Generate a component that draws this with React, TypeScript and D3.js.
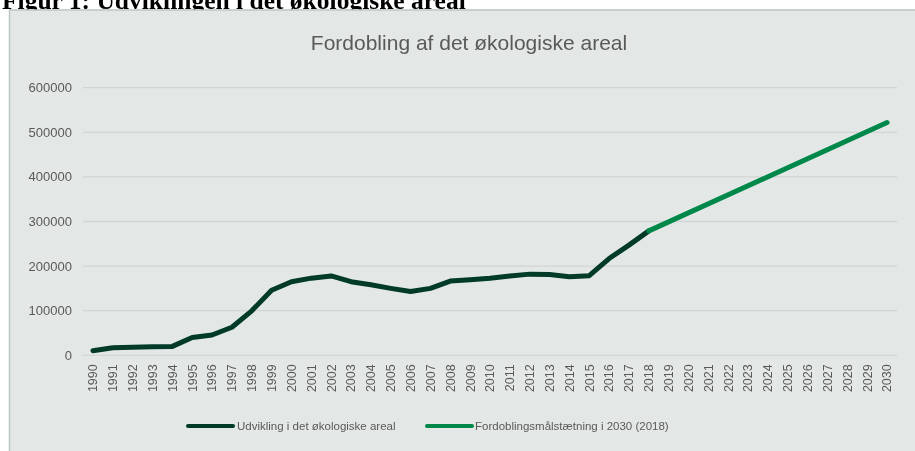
import { useMemo } from "react";
import * as d3 from "d3";

const WIDTH = 915;
const HEIGHT = 451;
const PLOT = { left: 83, right: 897, top: 87.7, bottom: 355.3 };

const years = d3.range(1990, 2031).map(String);

// udvikling i det økologiske areal (ha)
const actualYears = [
  "1990", "1991", "1992", "1993", "1994", "1995", "1996", "1997", "1998", "1999",
  "2000", "2001", "2002", "2003", "2004", "2005", "2006", "2007", "2008", "2009",
  "2010", "2011", "2012", "2013", "2014", "2015", "2016", "2017", "2018",
];
const actualValues = [
  10300, 17000, 18000, 19000, 20000, 40000, 45500, 63000, 99700, 146000,
  165000, 173000, 178000, 165000, 158000, 150000, 143000, 150000, 166500, 169500,
  173000, 178000, 182000, 181000, 176000, 178500, 217000, 247000, 279000,
];

// målsætning: fordobling frem til 2030
const targetYears = ["2018", "2030"];
const targetValues = [279000, 522000];

const yTicks = [0, 100000, 200000, 300000, 400000, 500000, 600000];

const DARK = "#013a28";
const GREEN = "#00884a";
const FONT = "'Liberation Sans', Arial, sans-serif";

type Pt = { year: string; value: number };

export default function App() {
  const xScale = useMemo(
    () => d3.scalePoint<string>().domain(years).range([PLOT.left, PLOT.right]).padding(0.5),
    []
  );
  const yScale = useMemo(
    () => d3.scaleLinear().domain([0, 600000]).range([PLOT.bottom, PLOT.top]),
    []
  );

  const line = d3
    .line<Pt>()
    .x((d) => xScale(d.year) ?? 0)
    .y((d) => yScale(d.value));

  const actual = actualYears.map((year, i) => ({ year, value: actualValues[i] }));
  const target = targetYears.map((year, i) => ({ year, value: targetValues[i] }));

  return (
    <div style={{ position: "fixed", left: 0, top: 0 }}>
      <svg width={WIDTH} height={HEIGHT} style={{ display: "block" }}>
        <rect x={0} y={0} width={WIDTH} height={HEIGHT} fill="#fff" />
        {/* figure heading, cut off at the top like in the source */}
        <text
          x={2}
          y={8.5}
          fontFamily="'Liberation Serif', 'Times New Roman', serif"
          fontWeight="bold"
          fontSize={25.5}
          fill="#000"
        >
          Figur 1: Udviklingen i det økologiske areal
        </text>
        <rect
          x={9.5}
          y={10}
          width={WIDTH}
          height={HEIGHT}
          fill="#e3e8e6"
          stroke="#b9c7c3"
          strokeWidth={1.5}
        />
        <text
          x={469}
          y={50}
          textAnchor="middle"
          fontFamily={FONT}
          fontSize={21}
          fill="#595959"
        >
          Fordobling af det økologiske areal
        </text>

        {yTicks.map((t) => (
          <g key={t}>
            <line
              x1={PLOT.left}
              x2={PLOT.right}
              y1={yScale(t)}
              y2={yScale(t)}
              stroke="#d3d5d5"
              strokeWidth={1.3}
            />
            <text
              x={72}
              y={yScale(t)}
              dy="0.35em"
              textAnchor="end"
              fontFamily={FONT}
              fontSize={13}
              fill="#595959"
            >
              {t}
            </text>
          </g>
        ))}

        {years.map((y) => (
          <text
            key={y}
            transform={`translate(${xScale(y)},${PLOT.bottom + 9}) rotate(-90)`}
            dy="0.35em"
            textAnchor="end"
            fontFamily={FONT}
            fontSize={12.5}
            fill="#595959"
          >
            {y}
          </text>
        ))}

        <path
          d={line(actual) ?? ""}
          fill="none"
          stroke={DARK}
          strokeWidth={5}
          strokeLinejoin="round"
          strokeLinecap="round"
        />
        <path
          d={line(target) ?? ""}
          fill="none"
          stroke={GREEN}
          strokeWidth={5}
          strokeLinecap="round"
        />

        <g fontFamily={FONT} fontSize={11.5} fill="#595959">
          <line x1={188} x2={233} y1={426} y2={426} stroke={DARK} strokeWidth={4} strokeLinecap="round" />
          <text x={237} y={426} dy="0.35em">
            Udvikling i det økologiske areal
          </text>
          <line x1={427} x2={472} y1={426} y2={426} stroke={GREEN} strokeWidth={4} strokeLinecap="round" />
          <text x={475} y={426} dy="0.35em">
            Fordoblingsmålstætning i 2030 (2018)
          </text>
        </g>
      </svg>
    </div>
  );
}
